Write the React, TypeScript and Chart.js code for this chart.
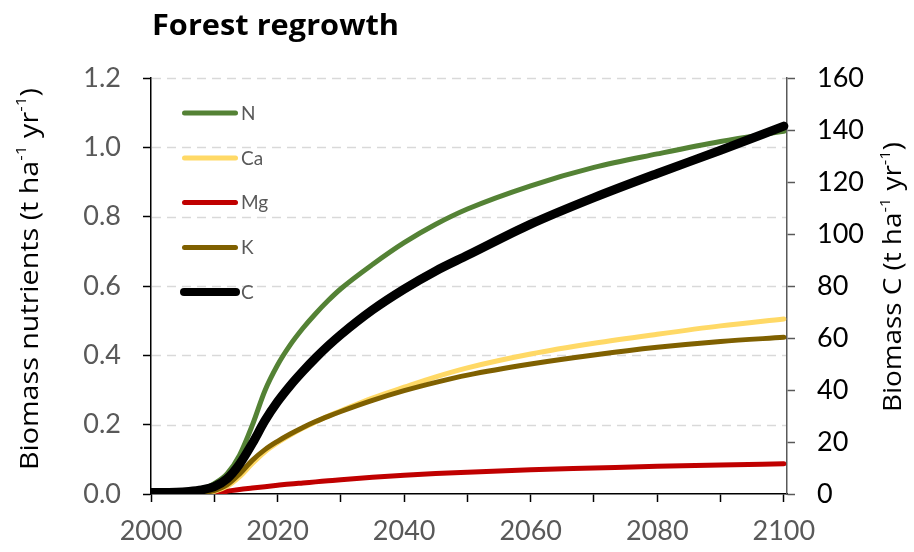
import { useEffect, useRef } from 'react';
import { Chart, registerables } from 'chart.js';

Chart.register(...registerables);

// Simulation years (x values)
const YEARS = [2000, 2004, 2006, 2008, 2010, 2012, 2014, 2016, 2018, 2020, 2022, 2024, 2026, 2028, 2030, 2035, 2040, 2045, 2050, 2060, 2070, 2080, 2090, 2100];

// Nutrients in biomass, t ha-1 yr-1 (left axis)
const N_VALUES = [0, 0.001, 0.004, 0.012, 0.03, 0.058, 0.112, 0.198, 0.298, 0.372, 0.43, 0.478, 0.52, 0.558, 0.592, 0.662, 0.725, 0.778, 0.822, 0.889, 0.942, 0.981, 1.017, 1.046];
const CA_VALUES = [0, 0, 0.0005, 0.002, 0.008, 0.022, 0.05, 0.088, 0.122, 0.148, 0.17, 0.19, 0.208, 0.225, 0.24, 0.277, 0.308, 0.338, 0.364, 0.404, 0.435, 0.461, 0.485, 0.505];
const MG_VALUES = [0, 0, 0, 0.0005, 0.003, 0.008, 0.013, 0.017, 0.021, 0.025, 0.029, 0.032, 0.035, 0.038, 0.041, 0.048, 0.054, 0.059, 0.063, 0.07, 0.075, 0.08, 0.084, 0.087];
const K_VALUES = [0, 0, 0.001, 0.003, 0.01, 0.026, 0.058, 0.097, 0.128, 0.152, 0.173, 0.192, 0.209, 0.224, 0.238, 0.27, 0.298, 0.322, 0.343, 0.375, 0.401, 0.423, 0.44, 0.452];

// Carbon in biomass, t ha-1 yr-1 (right axis)
const C_VALUES = [0.6, 0.7, 1.0, 1.6, 2.8, 5.8, 11.5, 19.4, 28.2, 35.5, 41.7, 47.2, 52.3, 57, 61.3, 70.8, 78.8, 85.8, 91.8, 103.8, 114, 123.3, 132.2, 141.5];

// Axis ticks
const X_TICKS = [2000, 2010, 2020, 2030, 2040, 2050, 2060, 2070, 2080, 2090, 2100];
const X_LABELS = [2000, 2020, 2040, 2060, 2080, 2100];
const LEFT_TICKS = [0, 0.2, 0.4, 0.6, 0.8, 1.0, 1.2];
const RIGHT_TICKS = [0, 20, 40, 60, 80, 100, 120, 140, 160];

const SERIES_NAMES = ['N', 'Ca', 'Mg', 'K', 'C'];
const SERIES_COLORS = ['#548235', '#FFD966', '#C00000', '#7F6000', '#000000'];

const FONT = 'Lato, "Open Sans", sans-serif';
const TITLE_FONT = '"Open Sans", Lato, sans-serif';
const GREY = '#595959';

type Part = { t: string; sup?: boolean };

// Rotated (-90deg) axis title with superscripts, stretched to a given length
function drawRich(ctx: CanvasRenderingContext2D, parts: Part[], cx: number, cy: number, size: number, length: number, color: string) {
  const supSize = Math.round(size * 0.6);
  const widths = parts.map((p) => {
    ctx.font = `${p.sup ? supSize : size}px ${TITLE_FONT}`;
    return ctx.measureText(p.t).width;
  });
  const total = widths.reduce((a, b) => a + b, 0);
  ctx.save();
  ctx.translate(cx, cy);
  ctx.rotate(-Math.PI / 2);
  ctx.scale(length / total, 1);
  ctx.fillStyle = color;
  ctx.textBaseline = 'alphabetic';
  ctx.textAlign = 'left';
  let x = -total / 2;
  parts.forEach((p, i) => {
    ctx.font = `${p.sup ? supSize : size}px ${TITLE_FONT}`;
    ctx.fillText(p.t, x, p.sup ? -size * 0.45 : 0);
    x += widths[i];
  });
  ctx.restore();
}

const decorations = {
  id: 'decorations',
  beforeDatasetsDraw(chart: any) {
    const { ctx, chartArea } = chart;
    const y = chart.scales.yLeft;
    ctx.save();
    ctx.strokeStyle = '#d9d9d9';
    ctx.lineWidth = 1.5;
    ctx.setLineDash([9, 6]);
    LEFT_TICKS.forEach((v) => {
      if (v === 0) return;
      const py = Math.round(y.getPixelForValue(v)) + 0.5;
      ctx.beginPath();
      ctx.moveTo(chartArea.left + 1, py);
      ctx.lineTo(chartArea.right - 1, py);
      ctx.stroke();
    });
    ctx.restore();
  },
  afterDraw(chart: any) {
    const { ctx } = chart;
    ctx.save();
    // chart title
    ctx.font = `bold 28px ${TITLE_FONT}`;
    ctx.fillStyle = '#000';
    ctx.textAlign = 'left';
    ctx.textBaseline = 'alphabetic';
    const title = 'Forest regrowth';
    const tw = ctx.measureText(title).width;
    ctx.save();
    ctx.translate(152, 35);
    ctx.scale(247 / tw, 1);
    ctx.fillText(title, 0, 0);
    ctx.restore();

    // axis titles
    drawRich(ctx, [
      { t: 'Biomass nutrients (t ha' }, { t: '-1', sup: true }, { t: ' yr' }, { t: '-1', sup: true }, { t: ')' },
    ], 37.5, 279, 25, 382, '#000');
    drawRich(ctx, [
      { t: 'Biomass C (t ha' }, { t: '-1', sup: true }, { t: ' yr' }, { t: '-1', sup: true }, { t: ')' },
    ], 901, 277, 25, 270, '#000');

    // legend
    const rows = [113, 158, 202.5, 247.5, 292];
    SERIES_NAMES.forEach((name, i) => {
      const y = rows[i];
      ctx.strokeStyle = SERIES_COLORS[i];
      ctx.lineWidth = name === 'C' ? 8 : 5;
      ctx.lineCap = 'round';
      ctx.beginPath();
      ctx.moveTo(name === 'C' ? 184 : 184.5, y);
      ctx.lineTo(name === 'C' ? 236 : 235.5, y);
      ctx.stroke();
      ctx.font = `19px ${FONT}`;
      ctx.fillStyle = GREY;
      ctx.fillText(name, 241, y + 6.8);
    });
    ctx.restore();
  },
};

export default function App() {
  const ref = useRef<HTMLCanvasElement>(null);

  useEffect(() => {
    if (!ref.current) return;
    const valueSets = [N_VALUES, CA_VALUES, MG_VALUES, K_VALUES, C_VALUES];
    const drawOrder = [2, 3, 4, 1, 0];
    const datasets = SERIES_NAMES.map((name, i) => ({
      label: name,
      data: YEARS.map((yr, j) => ({ x: yr, y: valueSets[i][j] })),
      borderColor: SERIES_COLORS[i],
      backgroundColor: SERIES_COLORS[i],
      borderWidth: name === 'C' ? 9 : 5,
      pointRadius: 0,
      cubicInterpolationMode: 'monotone' as const,
      borderCapStyle: 'round' as const,
      borderJoinStyle: 'round' as const,
      yAxisID: name === 'C' ? 'yRight' : 'yLeft',
      order: drawOrder[i],
      clip: { left: 0, top: 10, right: 10, bottom: 0 },
    }));

    const chart = new Chart(ref.current, {
      type: 'line',
      data: { datasets },
      options: {
        animation: false,
        responsive: true,
        maintainAspectRatio: false,
        layout: { padding: { top: 78, left: 0, right: 0, bottom: 0 } },
        plugins: { legend: { display: false }, tooltip: { enabled: false } },
        scales: {
          x: {
            type: 'linear',
            min: 2000,
            max: 2100.5,
            afterBuildTicks: (s: any) => { s.ticks = X_TICKS.map((v) => ({ value: v })); },
            afterFit: (s: any) => { s.height = 58; },
            grid: { drawOnChartArea: false, drawTicks: true, tickLength: 8, tickColor: '#000', tickWidth: 1.5 },
            border: { display: true, color: '#000', width: 1.5 },
            ticks: {
              autoSkip: false,
              maxRotation: 0,
              padding: 13,
              color: GREY,
              font: { family: FONT, size: 27 },
              callback: (v: any) => (X_LABELS.includes(Number(v)) ? String(v) : ''),
            },
          },
          yLeft: {
            type: 'linear',
            position: 'left',
            min: 0,
            max: 1.2,
            afterBuildTicks: (s: any) => { s.ticks = LEFT_TICKS.map((v) => ({ value: v })); },
            afterFit: (s: any) => { s.width = 151; },
            grid: { drawOnChartArea: false, drawTicks: true, tickLength: 8, tickColor: '#000', tickWidth: 1.5 },
            border: { display: true, color: '#000', width: 1.5 },
            ticks: {
              padding: 22,
              color: GREY,
              font: { family: FONT, size: 27 },
              callback: (v: any) => Number(v).toFixed(1),
            },
          },
          yRight: {
            type: 'linear',
            position: 'right',
            min: 0,
            max: 160,
            afterBuildTicks: (s: any) => { s.ticks = RIGHT_TICKS.map((v) => ({ value: v })); },
            afterFit: (s: any) => { s.width = 914 - 787; },
            grid: { drawOnChartArea: false, drawTicks: true, tickLength: 8, tickColor: GREY, tickWidth: 1.5 },
            border: { display: true, color: GREY, width: 1.5 },
            ticks: {
              padding: 22,
              color: '#000',
              font: { family: FONT, size: 27 },
              callback: (v: any) => String(v),
            },
          },
        },
      },
      plugins: [decorations],
    });
    return () => chart.destroy();
  }, []);

  return (
    <div style={{ position: 'fixed', left: 0, top: 0, width: 914, height: 552, background: '#fff' }}>
      <canvas ref={ref} />
    </div>
  );
}
